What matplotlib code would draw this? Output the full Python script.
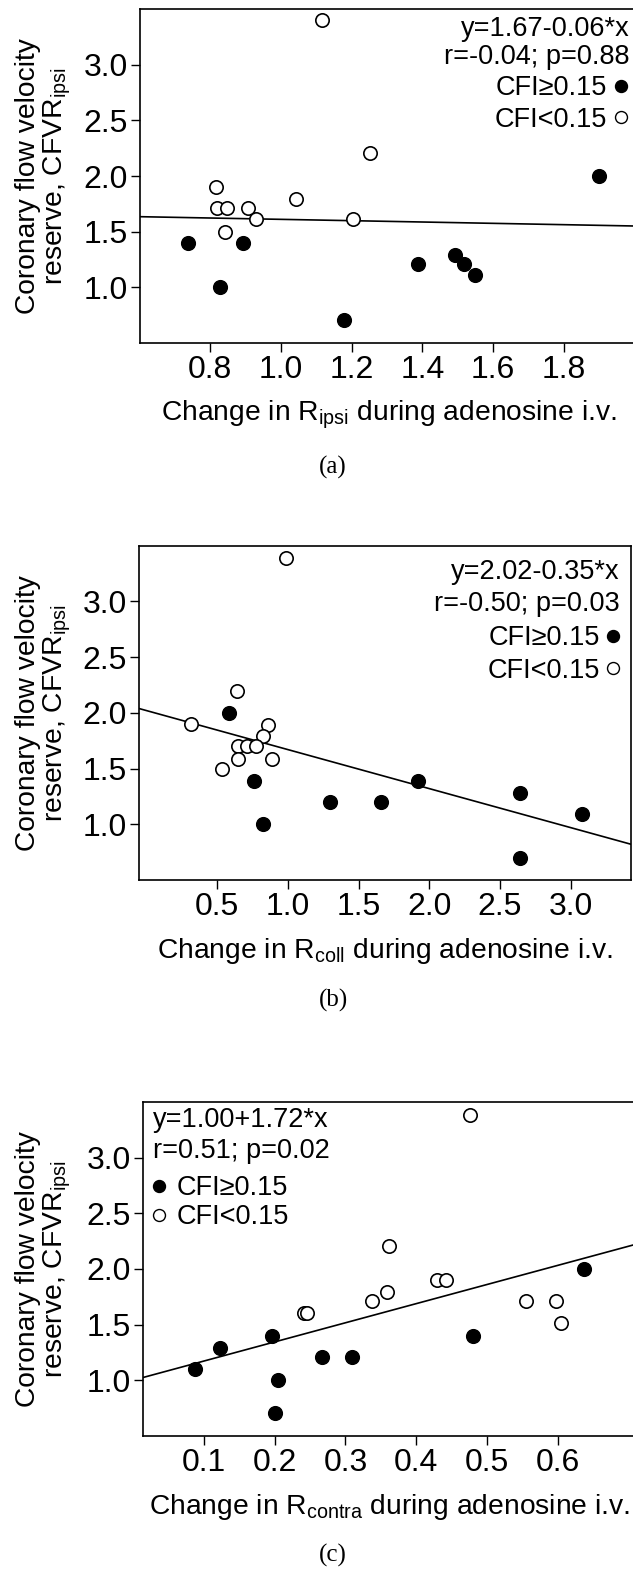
import matplotlib
matplotlib.use("Agg")
import matplotlib.pyplot as plt
from matplotlib.lines import Line2D

plt.rcParams['font.family'] = ['Liberation Sans', 'DejaVu Sans']
plt.rcParams['mathtext.fontset'] = 'custom'
plt.rcParams['mathtext.rm'] = 'Liberation Sans'
plt.rcParams['mathtext.it'] = 'Liberation Sans:italic'
plt.rcParams['mathtext.bf'] = 'Liberation Sans:bold'

# ---- panel (a): change in R_ipsi ----
A_LOW_X = [1.117, 1.251, 0.816, 0.821, 0.849, 0.906, 0.931, 0.841, 1.042, 1.205]
A_LOW_Y = [3.40, 2.21, 1.90, 1.71, 1.71, 1.71, 1.61, 1.50, 1.79, 1.61]
A_HIGH_X = [0.738, 0.894, 0.827, 1.178, 1.388, 1.491, 1.517, 1.550, 1.899]
A_HIGH_Y = [1.40, 1.40, 1.00, 0.70, 1.21, 1.29, 1.21, 1.11, 2.00]
A_FIT = (1.67, -0.06)
A_TEXT = ["y=1.67-0.06*x", "r=-0.04; p=0.88"]
A_XTICKS = [0.8, 1.0, 1.2, 1.4, 1.6, 1.8]

# ---- panel (b): change in R_coll ----
B_LOW_X = [0.986, 0.637, 0.312, 0.861, 0.826, 0.644, 0.708, 0.772, 0.644, 0.889, 0.536]
B_LOW_Y = [3.39, 2.20, 1.90, 1.89, 1.79, 1.70, 1.70, 1.70, 1.59, 1.59, 1.50]
B_HIGH_X = [0.585, 0.762, 0.823, 1.295, 1.658, 1.920, 2.644, 3.078, 2.644]
B_HIGH_Y = [2.00, 1.39, 1.00, 1.20, 1.20, 1.39, 1.28, 1.09, 0.70]
B_FIT = (2.02, -0.35)
B_TEXT = ["y=2.02-0.35*x", "r=-0.50; p=0.03"]
B_XTICKS = [0.5, 1.0, 1.5, 2.0, 2.5, 3.0]

# ---- panel (c): change in R_contra ----
C_LOW_X = [0.476, 0.362, 0.429, 0.442, 0.359, 0.337, 0.556, 0.598, 0.605, 0.242, 0.245]
C_LOW_Y = [3.39, 2.21, 1.90, 1.90, 1.79, 1.71, 1.71, 1.71, 1.51, 1.60, 1.60]
C_HIGH_X = [0.637, 0.480, 0.196, 0.123, 0.087, 0.267, 0.310, 0.204, 0.200]
C_HIGH_Y = [2.00, 1.40, 1.40, 1.29, 1.10, 1.21, 1.21, 1.00, 0.70]
C_FIT = (1.00, 1.72)
C_TEXT = ["y=1.00+1.72*x", "r=0.51; p=0.02"]
C_XTICKS = [0.1, 0.2, 0.3, 0.4, 0.5, 0.6]

Y_TICKS = [1.0, 1.5, 2.0, 2.5, 3.0]
LEG_LABELS = ["CFI\u22650.15", "CFI<0.15"]

W, H = 633, 1572
TICK_FS = 23     # tick numbers are the biggest text on the page
LABEL_FS = 20.3
NOTE_FS = 19.5


def px_axes(fig, l, t, r, b):
    return fig.add_axes([l / W, 1 - b / H, (r - l) / W, (b - t) / H])


def draw_panel(fig, box, xlim, xticks, low_x, low_y, high_x, high_y, fit,
               texts, sub, tag, note):
    l, t, r, b = box
    ax = px_axes(fig, l, t, r, b)
    ax.set_xlim(*xlim)
    ax.set_ylim(0.5, 3.5)

    xs = list(xlim)
    ax.plot(xs, [fit[0] + fit[1] * x for x in xs], color='black', lw=1.2, zorder=1)
    ax.plot(low_x, low_y, 'o', ms=9.6, mfc='white', mec='black', mew=1.2, ls='none', zorder=2)
    ax.plot(high_x, high_y, 'o', ms=9.9, mfc='black', mec='black', ls='none', zorder=3)

    ax.set_xticks(xticks)
    ax.set_xticklabels([f'{v:.1f}' for v in xticks])
    ax.set_yticks(Y_TICKS)
    ax.set_yticklabels([f'{v:.1f}' for v in Y_TICKS])
    ax.tick_params(axis='both', labelsize=TICK_FS, length=6.2, width=1, direction='out')
    ax.tick_params(axis='x', pad=2.5)
    ax.tick_params(axis='y', pad=2.5)
    for s in ax.spines.values():
        s.set_linewidth(1.2)

    ax.set_xlabel(f'Change in R$_{{\\mathrm{{{sub}}}}}$ during adenosine i.v.',
                  fontsize=LABEL_FS, labelpad=10)
    fig.text(44 / W, 1 - ((t + b) / 2) / H,
             'Coronary flow velocity\nreserve, CFVR$_{\\mathrm{ipsi}}$',
             rotation=90, ha='center', va='center', fontsize=LABEL_FS, linespacing=1.0)

    # stats lines + marker key; note = (side, text x, row centres, key anchor x, key spacing)
    side, x_txt, rows, key_x, spacing = note
    handles = [Line2D([], [], marker='o', ls='none', ms=8.6, mfc='black', mec='black'),
               Line2D([], [], marker='o', ls='none', ms=8.6, mfc='white', mec='black', mew=1)]
    ha = 'right' if side == 'right' else 'left'
    for s, y in zip(texts, rows[:2]):
        fig.text(x_txt / W, 1 - y / H, s, ha=ha, va='center', fontsize=NOTE_FS)
    ax.legend(handles, LEG_LABELS, loc='upper ' + side, markerfirst=(side == 'left'),
              bbox_to_anchor=(key_x / W, 1 - (rows[2] - 11) / H),
              bbox_transform=fig.transFigure, frameon=False, fontsize=NOTE_FS,
              handlelength=0.6, handletextpad=0.2 if side == 'right' else 0.35,
              borderpad=0, borderaxespad=0, labelspacing=spacing)

    fig.text(333 / W, 1 - tag[1] / H, tag[0], ha='center', va='center',
             fontsize=18, family=['Liberation Serif', 'DejaVu Serif'])
    return ax


fig = plt.figure(figsize=(W / 100, H / 100), dpi=100)
fig.patch.set_facecolor('white')

draw_panel(fig, (140, 9.3, 637, 342.7), (0.8 - 70 / 354, 0.8 + 427 / 354), A_XTICKS,
           A_LOW_X, A_LOW_Y, A_HIGH_X, A_HIGH_Y, A_FIT, A_TEXT, 'ipsi', ('(a)', 467),
           ('right', 630, [29, 57, 86, 117], 629, 0.22))
draw_panel(fig, (139.3, 545.7, 630.5, 880), (0.5 - 78 / 141.36, 0.5 + 413.2 / 141.36), B_XTICKS,
           B_LOW_X, B_LOW_Y, B_HIGH_X, B_HIGH_Y, B_FIT, B_TEXT, 'coll', ('(b)', 1000),
           ('right', 620, [572, 604, 636, 668], 621.5, 0.25))
draw_panel(fig, (142.7, 1102.3, 637, 1435.7), (0.1 - 61.3 / 707, 0.1 + 433 / 707), C_XTICKS,
           C_LOW_X, C_LOW_Y, C_HIGH_X, C_HIGH_Y, C_FIT, C_TEXT, 'contra', ('(c)', 1555),
           ('left', 153, [1120, 1151, 1186, 1215], 151, 0.12))

fig.savefig('out.png', dpi=100, facecolor='white')
